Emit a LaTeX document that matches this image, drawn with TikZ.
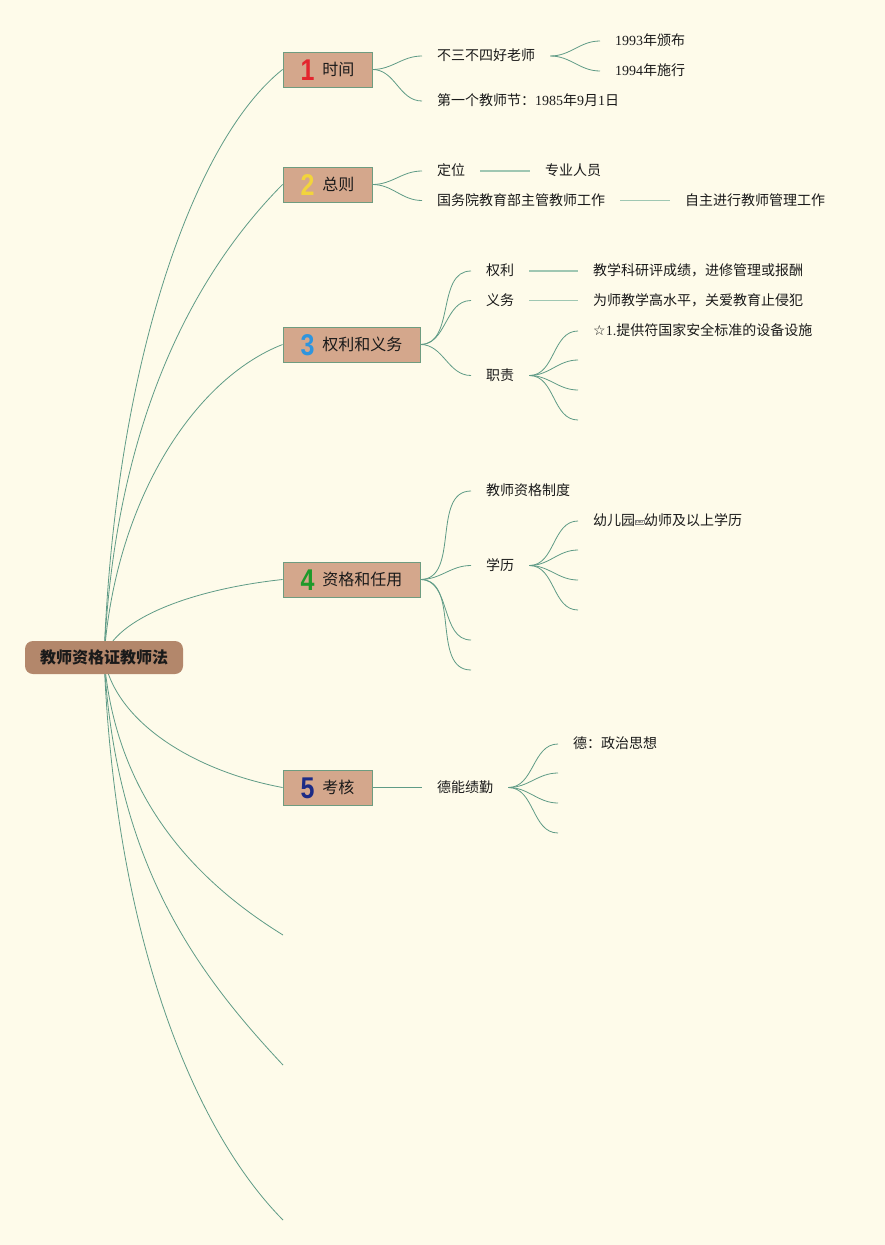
\documentclass[tikz,border=0pt]{standalone}
\usepackage{fontspec}
\setmainfont{Liberation Serif}
\newfontfamily\cjk{Noto Sans CJK SC}
\newfontfamily\digitfont{Liberation Sans}
\newfontfamily\symfont{DejaVu Sans}
\usetikzlibrary{backgrounds}
\definecolor{bgc}{HTML}{FEFBEA}
\definecolor{linecol}{HTML}{5F9B86}
\definecolor{lightline}{HTML}{9FC7B2}
\definecolor{topicfill}{HTML}{D4A78C}
\definecolor{topicline}{HTML}{6E9C80}
\definecolor{rootfill}{HTML}{B3876B}
\definecolor{txt}{HTML}{1A1A1A}
\definecolor{dred}{HTML}{E3262E}
\definecolor{dyel}{HTML}{F2D43C}
\definecolor{dblue}{HTML}{2E95DE}
\definecolor{dgreen}{HTML}{1E9A2A}
\definecolor{dnavy}{HTML}{1C2B86}
\newcommand\dig[2]{\raisebox{-4.7pt}{\scalebox{1}[1.2]{\digitfont\bfseries\fontsize{25}{25}\selectfont\color{#1}#2}}\hspace{8pt}}
\newcommand\objbox{\raisebox{2.6pt}{\setlength\fboxsep{0.4pt}\setlength\fboxrule{0.3pt}\fcolorbox{gray}{bgc}{\rmfamily\fontsize{4.2}{4.5}\selectfont OBJ}}}
\begin{document}
\begin{tikzpicture}[x=1pt,y=-1pt,
  every node/.style={text=txt},
  leaf/.style={anchor=west, inner xsep=15pt, inner ysep=0pt, font=\fontsize{14}{16}\selectfont\cjk, text height=11.5pt, text depth=2pt},
  topic/.style={draw=topicline, line width=0.9pt, fill=topicfill, minimum height=35pt, inner xsep=0pt, inner ysep=0pt, font=\fontsize{16}{18}\selectfont\cjk, text height=15pt, text depth=3pt},
  rootbox/.style={fill=rootfill, rounded corners=8pt, minimum width=158pt, minimum height=33pt, inner sep=0pt, font=\fontsize{16}{18}\selectfont\cjk\bfseries, text height=15pt, text depth=3pt},
  rootline/.style={draw=linecol, line width=0.8pt},
  link/.style={draw=linecol, line width=0.8pt},
  straight/.style={draw=lightline, line width=1.3pt}]
\useasboundingbox (0,0) rectangle (885,1245);
% nodes
\node[rootbox] (root) at (104,657.5) {教师资格证教师法};
\node[topic, minimum width=89pt] (n1) at (327.5,69.5) {\dig{dred}{1}时间};
\node[topic, minimum width=89pt] (n2) at (327.5,184.5) {\dig{dyel}{2}总则};
\node[topic, minimum width=137pt] (n3) at (351.5,344.5) {\dig{dblue}{3}权利和义务};
\node[topic, minimum width=137pt] (n4) at (351.5,579.5) {\dig{dgreen}{4}资格和任用};
\node[topic, minimum width=89pt] (n5) at (327.5,787.5) {\dig{dnavy}{5}考核};
\coordinate (x1) at (283,935);
\coordinate (x2) at (283,1065);
\coordinate (x3) at (283,1220);
% branch 1
\node[leaf] (a1) at (422,56) {不三不四好老师};
\node[leaf] (a11) at (600,41) {{\rmfamily 1993}年颁布};
\node[leaf] (a12) at (600,71) {{\rmfamily 1994}年施行};
\node[leaf] (a2) at (422,101) {第一个教师节：{\rmfamily 1985}年{\rmfamily 9}月{\rmfamily 1}日};
% branch 2
\node[leaf] (b1) at (422,171) {定位};
\node[leaf] (b11) at (530,171) {专业人员};
\node[leaf] (b2) at (422,200.5) {国务院教育部主管教师工作};
\node[leaf] (b21) at (670,200.5) {自主进行教师管理工作};
% branch 3
\node[leaf] (c1) at (471,271) {权利};
\node[leaf] (c11) at (578,271) {教学科研评成绩，进修管理或报酬};
\node[leaf] (c2) at (471,300.5) {义务};
\node[leaf] (c21) at (578,300.5) {为师教学高水平，关爱教育止侵犯};
\node[leaf] (c3) at (471,375.5) {职责};
\node[leaf] (c31) at (578,331) {{\symfont ☆}{\rmfamily 1.}提供符国家安全标准的设备设施};
\coordinate (c32) at (578,360);
\coordinate (c33) at (578,390);
\coordinate (c34) at (578,420);
% branch 4
\node[leaf] (d1) at (471,491) {教师资格制度};
\node[leaf] (d2) at (471,565.5) {学历};
\coordinate (d3) at (471,640);
\coordinate (d4) at (471,670);
\node[leaf] (d21) at (578,521) {幼儿园\objbox 幼师及以上学历};
\coordinate (d22) at (578,550);
\coordinate (d23) at (578,580);
\coordinate (d24) at (578,610);
% branch 5
\node[leaf] (e1) at (422,787.5) {德能绩勤};
\node[leaf] (e11) at (558,744) {德：政治思想};
\coordinate (e12) at (558,773);
\coordinate (e13) at (558,803);
\coordinate (e14) at (558,833);
% connectors
\begin{pgfonlayer}{background}
\fill[bgc] (0,0) rectangle (885,1245);
\draw[rootline] (root.center) .. controls (115,363) and (194,140) .. (n1.west);
\draw[rootline] (root.center) .. controls (115,421) and (194,274) .. (n2.west);
\draw[rootline] (root.center) .. controls (115,501) and (194,379) .. (n3.west);
\draw[rootline] (root.center) .. controls (115,618) and (194,589) .. (n4.west);
\draw[rootline] (root.center) .. controls (115,722) and (194,771) .. (n5.west);
\draw[rootline] (root.center) .. controls (115,796) and (194,880) .. (x1);
\draw[rootline] (root.center) .. controls (115,861) and (194,970) .. (x2);
\draw[rootline] (root.center) .. controls (115,938) and (194,1130) .. (x3);
\draw[link] (n1.east) to[out=0,in=180] (a1.west);
\draw[link] (n1.east) to[out=0,in=180] (a2.west);
\draw[link] (a1.east) to[out=0,in=180] (a11.west);
\draw[link] (a1.east) to[out=0,in=180] (a12.west);
\draw[link] (n2.east) to[out=0,in=180] (b1.west);
\draw[link] (n2.east) to[out=0,in=180] (b2.west);
\draw[straight] (b1.east) -- (b11.west);
\draw[straight] (b2.east) -- (b21.west);
\draw[link] (n3.east) to[out=0,in=180] (c1.west);
\draw[link] (n3.east) to[out=0,in=180] (c2.west);
\draw[link] (n3.east) to[out=0,in=180] (c3.west);
\draw[straight] (c1.east) -- (c11.west);
\draw[straight] (c2.east) -- (c21.west);
\draw[link] (c3.east) to[out=0,in=180] (c31.west);
\draw[link] (c3.east) to[out=0,in=180] (c32);
\draw[link] (c3.east) to[out=0,in=180] (c33);
\draw[link] (c3.east) to[out=0,in=180] (c34);
\draw[link] (n4.east) to[out=0,in=180] (d1.west);
\draw[link] (n4.east) to[out=0,in=180] (d2.west);
\draw[link] (n4.east) to[out=0,in=180] (d3);
\draw[link] (n4.east) to[out=0,in=180] (d4);
\draw[link] (d2.east) to[out=0,in=180] (d21.west);
\draw[link] (d2.east) to[out=0,in=180] (d22);
\draw[link] (d2.east) to[out=0,in=180] (d23);
\draw[link] (d2.east) to[out=0,in=180] (d24);
\draw[link] (n5.east) -- (e1.west);
\draw[link] (e1.east) to[out=0,in=180] (e11.west);
\draw[link] (e1.east) to[out=0,in=180] (e12);
\draw[link] (e1.east) to[out=0,in=180] (e13);
\draw[link] (e1.east) to[out=0,in=180] (e14);
\end{pgfonlayer}
\end{tikzpicture}
\end{document}
